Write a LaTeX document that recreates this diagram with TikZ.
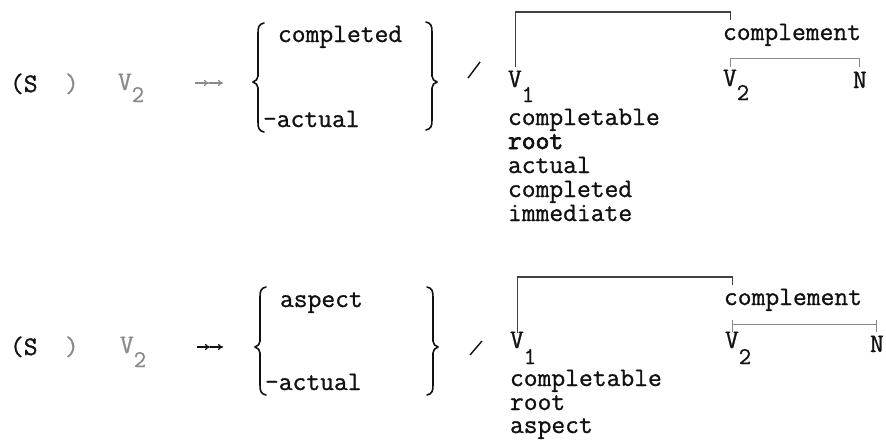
\documentclass[tikz,border=0pt]{standalone}
\usepackage{fontspec}
\usetikzlibrary{arrows.meta}
\newfontfamily\tw{Latin Modern Mono}[FakeBold=0.9]
\newfontfamily\twb{Latin Modern Mono}[FakeBold=2.6]
\definecolor{ink}{HTML}{111111}
\definecolor{faint}{HTML}{8A8A8A}
\newcommand{\lowsub}[2]{#1\raisebox{-#2pt}{\fontsize{24}{26}\selectfont 1}}
\newcommand{\lowsubtwo}[1]{V\raisebox{-#1pt}{\fontsize{24}{26}\selectfont 2}}
\tikzset{
  txt/.style={anchor=base west, inner sep=0pt, outer sep=0pt, text=ink,
    font=\fontsize{26.8}{30}\selectfont\tw},
  dim/.style={txt, text=faint},
  brace/.style={draw=ink, line width=1.6pt, line join=round, line cap=round},
  bar/.style={draw=ink!80, line width=1.1pt},
  thinbar/.style={draw=faint, line width=0.9pt},
  dblarrow/.style={line width=1.2pt, -{To[length=5pt,width=6pt]}},
}
\begin{document}
\begin{tikzpicture}[x=1pt,y=-1pt]
\useasboundingbox (0,0) rectangle (886,439);
\fill[white] (0,0) rectangle (886,439);

% ---------------- Row 1 ----------------
\node[txt] (s1) at (10,92) {(S};
\node[dim] (p1) at (65,92) {)};
\node[dim] (lv1) at (118,90) {\lowsubtwo{12}};
\coordinate (a1s) at (195,83);
\coordinate (a1m) at (209,83);
\coordinate (a1e) at (223,83);
\draw[dblarrow, draw=faint] (a1s) -- (a1m);
\draw[dblarrow, draw=faint] (a1m) -- (a1e);

\draw[brace] (264,23) .. controls (259,24) and (258,27) .. (258,33) -- (258,76)
  .. controls (258,79) and (256,81) .. (253,82) .. controls (256,83) and (258,85) .. (258,88)
  -- (258,122) .. controls (258,128) and (259,131) .. (264,132);
\node[txt] (c1) at (278,42) {completed};
\node[txt] (na1) at (263,127) {-actual};
\draw[brace] (426,22) .. controls (431,23) and (432,26) .. (432,32) -- (432,76)
  .. controls (432,79) and (434,81) .. (437,82) .. controls (434,83) and (432,85) .. (432,88)
  -- (432,120) .. controls (432,126) and (431,129) .. (426,130);
\draw[ink, line width=1.4pt] (468,78) -- (480,62);

\node[txt] (v1) at (508,87) {\lowsub{V}{15}};
\node[txt] (cm1) at (723,40) {complement};
\node[txt] (w1) at (723,86) {\lowsubtwo{14}};
\node[txt] (n1) at (853,88) {N};
\coordinate (v1c) at ([xshift=7.5pt]v1.base west);
\coordinate (w1c) at ([xshift=7.5pt]w1.base west);
\draw[bar] (v1c |- 0,67) -- (v1c |- 0,12) -- (w1c |- 0,12) -- (w1c |- 0,20);
\draw[thinbar] (w1c |- 0,67) -- (w1c |- 0,58) -- (n1.north |- 0,58) -- (n1.north |- 0,67);

\node[txt] (f11) at (508,125) {completable};
\node[txt] (f12) at (508,149) {\twb root};
\node[txt] (f13) at (508,173) {actual};
\node[txt] (f14) at (508,197) {completed};
\node[txt] (f15) at (508,221) {immediate};

% ---------------- Row 2 ----------------
\node[txt] (s2) at (10,355) {(S};
\node[dim] (p2) at (65,355) {)};
\node[dim] (lv2) at (120,353) {\lowsubtwo{14}};
\coordinate (a2s) at (197,347);
\coordinate (a2m) at (210,347);
\coordinate (a2e) at (223,347);
\draw[dblarrow, draw=ink] (a2s) -- (a2m);
\draw[dblarrow, draw=ink] (a2m) -- (a2e);

\draw[brace] (266,287) .. controls (261,288) and (260,291) .. (260,297) -- (260,341)
  .. controls (260,344) and (258,346) .. (255,347) .. controls (258,348) and (260,350) .. (260,353)
  -- (260,385) .. controls (260,391) and (261,394) .. (266,395);
\node[txt] (c2) at (280,307) {aspect};
\node[txt] (na2) at (265,390) {-actual};
\draw[brace] (427,287) .. controls (432,288) and (433,291) .. (433,297) -- (433,341)
  .. controls (433,344) and (435,346) .. (438,347) .. controls (435,348) and (433,350) .. (433,353)
  -- (433,385) .. controls (433,391) and (432,394) .. (427,395);
\draw[ink, line width=1.4pt] (470,355) -- (482,341);

\node[txt] (v2) at (510,348) {\lowsub{V}{16}};
\node[txt] (cm2) at (724,305) {complement};
\node[txt] (w2) at (725,348) {\lowsubtwo{16}};
\node[txt] (n2) at (870,352) {N};
\coordinate (v2c) at ([xshift=7.5pt]v2.base west);
\coordinate (w2c) at ([xshift=7.5pt]w2.base west);
\draw[bar] (v2c |- 0,333) -- (v2c |- 0,277) -- (w2c |- 0,277) -- (w2c |- 0,285);
\draw[thinbar] (w2c |- 0,332) -- (w2c |- 0,324) -- (n2.north |- 0,324) -- (n2.north |- 0,332);
\draw[thinbar] (w2c |- 0,320) -- (w2c |- 0,324);
\draw[thinbar] (n2.north |- 0,320) -- (n2.north |- 0,324);

\node[txt] (f21) at (510,386) {completable};
\node[txt] (f22) at (510,410) {root};
\node[txt] (f23) at (510,433) {aspect};
\end{tikzpicture}
\end{document}
